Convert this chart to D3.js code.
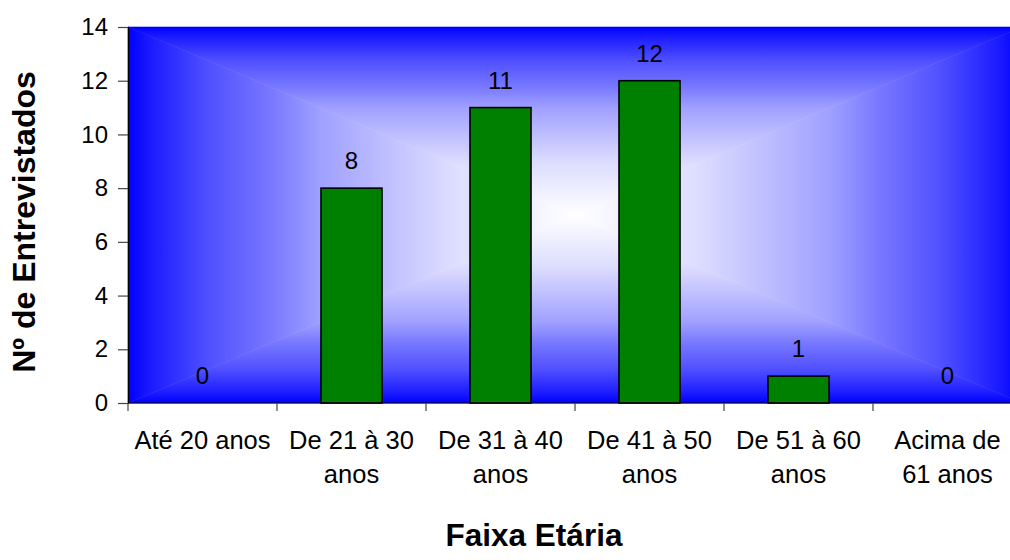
<!DOCTYPE html>
<html>
<head>
<meta charset="utf-8">
<script src="https://cdn.jsdelivr.net/npm/d3@7"></script>
<style>
  html, body { margin: 0; padding: 0; background: #fff; }
  svg { display: block; }
  text { font-family: "Liberation Sans", Arial, sans-serif; fill: #000; }
</style>
</head>
<body>
<svg id="chart" width="1010" height="560"></svg>
<script>
// Age bands and number of interviewees in each
const categories = ["Até 20 anos", "De 21 à 30 anos", "De 31 à 40 anos", "De 41 à 50 anos", "De 51 à 60 anos", "Acima de 61 anos"];
const categoryLines = [["Até 20 anos"], ["De 21 à 30", "anos"], ["De 31 à 40", "anos"], ["De 41 à 50", "anos"], ["De 51 à 60", "anos"], ["Acima de", "61 anos"]];
const values = [0, 8, 11, 12, 1, 0];
const yTicks = [0, 2, 4, 6, 8, 10, 12, 14];
const xTitle = "Faixa Etária";
const yTitle = "Nº de Entrevistados";

const svg = d3.select("#chart");
const plot = { left: 128, top: 27, right: 1022, bottom: 403 };

const x = d3.scaleBand().domain(categories).range([plot.left, plot.right]).paddingInner(0).paddingOuter(0);
const y = d3.scaleLinear().domain([0, 14]).range([plot.bottom, plot.top]);

// Background: rectangular "from centre" gradient, white in the middle, blue at the edges
const defs = svg.append("defs");
const cx = (plot.left + plot.right) / 2, cy = (plot.top + plot.bottom) / 2;
const stops = [
  { o: 0, c: "#0000ff" },
  { o: 0.05, c: "#1a1aff" },
  { o: 0.18, c: "#5050ff" },
  { o: 0.32, c: "#7878ff" },
  { o: 0.43, c: "#a0a0ff" },
  { o: 0.72, c: "#dcdcff" },
  { o: 1, c: "#ffffff" }
];
const sides = [
  { id: "gTop", x1: cx, y1: plot.top, x2: cx, y2: cy, pts: [[plot.left, plot.top], [plot.right, plot.top], [cx, cy]] },
  { id: "gBottom", x1: cx, y1: plot.bottom, x2: cx, y2: cy, pts: [[plot.left, plot.bottom], [plot.right, plot.bottom], [cx, cy]] },
  { id: "gLeft", x1: plot.left, y1: cy, x2: cx, y2: cy, pts: [[plot.left, plot.top], [plot.left, plot.bottom], [cx, cy]] },
  { id: "gRight", x1: plot.right, y1: cy, x2: cx, y2: cy, pts: [[plot.right, plot.top], [plot.right, plot.bottom], [cx, cy]] }
];
sides.forEach(s => {
  const g = defs.append("linearGradient").attr("id", s.id).attr("gradientUnits", "userSpaceOnUse")
    .attr("x1", s.x1).attr("y1", s.y1).attr("x2", s.x2).attr("y2", s.y2);
  stops.forEach(st => g.append("stop").attr("offset", st.o).attr("stop-color", st.c));
  svg.append("polygon").attr("points", s.pts.map(p => p.join(",")).join(" "))
    .attr("fill", `url(#${s.id})`).attr("stroke", `url(#${s.id})`).attr("stroke-width", 0.6);
});

// Bars
const barW = 61;
svg.append("g").selectAll("rect").data(values).join("rect")
  .attr("x", (d, i) => x(categories[i]) + x.bandwidth() / 2 - barW / 2)
  .attr("y", d => y(d))
  .attr("width", barW)
  .attr("height", d => y(0) - y(d))
  .attr("fill", d => d > 0 ? "#008000" : "none")
  .attr("stroke", d => d > 0 ? "#000" : "none")
  .attr("stroke-width", 1.6);

// Value labels
svg.append("g").selectAll("text").data(values).join("text")
  .attr("x", (d, i) => x(categories[i]) + x.bandwidth() / 2)
  .attr("y", d => y(d) - 19)
  .attr("text-anchor", "middle")
  .attr("font-size", 24)
  .text(d => d);

// Y axis
const yAxis = d3.axisLeft(y).tickValues(yTicks).tickSize(10).tickPadding(10).tickFormat(d3.format("d"));
const yg = svg.append("g").attr("transform", `translate(${plot.left},0)`).call(yAxis);
yg.select(".domain").attr("stroke", "#000").attr("stroke-width", 1.2);
yg.selectAll(".tick line").attr("stroke", "#444").attr("stroke-width", 1.2);
yg.selectAll(".tick text").attr("font-size", 24).attr("font-family", "Liberation Sans, Arial, sans-serif").attr("fill", "#000");

// X axis: ticks at band boundaries
const xg = svg.append("g").attr("transform", `translate(0,${plot.bottom})`);
xg.append("line").attr("x1", plot.left).attr("x2", plot.right).attr("y1", 0).attr("y2", 0)
  .attr("stroke", "#000").attr("stroke-width", 1.2);
xg.selectAll("line.tk").data(categories).join("line").attr("class", "tk")
  .attr("x1", d => x(d)).attr("x2", d => x(d)).attr("y1", 0).attr("y2", 8)
  .attr("stroke", "#444").attr("stroke-width", 1.2);

// Category labels (wrapped)
const catG = svg.append("g");
categories.forEach((c, i) => {
  const t = catG.append("text")
    .attr("x", x(c) + x.bandwidth() / 2)
    .attr("y", 449)
    .attr("text-anchor", "middle")
    .attr("font-size", 25.5);
  categoryLines[i].forEach((line, j) => {
    t.append("tspan").attr("x", x(c) + x.bandwidth() / 2).attr("dy", j === 0 ? 0 : 34).text(line);
  });
});

// Axis titles
svg.append("text").attr("x", 534).attr("y", 546).attr("text-anchor", "middle")
  .attr("font-size", 31.5).attr("font-weight", "bold").text(xTitle);
svg.append("text").attr("transform", "translate(35,222) rotate(-90)").attr("text-anchor", "middle")
  .attr("font-size", 32).attr("font-weight", "bold").text(yTitle);
</script>
</body>
</html>
